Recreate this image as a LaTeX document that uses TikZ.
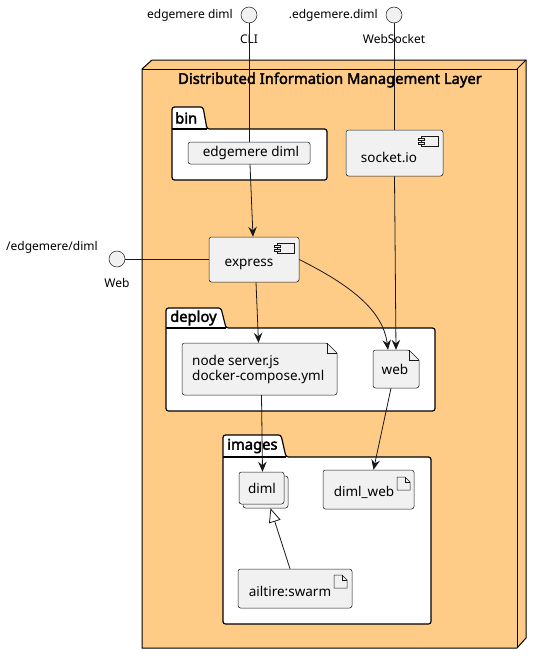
\documentclass[tikz,border=0pt]{standalone}
\usepackage{fontspec}
\setmainfont[AutoFakeBold=2.5]{Noto Sans}
\usetikzlibrary{arrows.meta,calc}
\definecolor{nodefill}{HTML}{F1F1F1}
\definecolor{ln}{HTML}{181818}
\definecolor{layer}{HTML}{FFCC88}
\tikzset{
  box/.style={draw=ln, fill=nodefill, line width=0.5pt, rounded corners=2.5pt, inner sep=0pt},
  ghost/.style={inner sep=0pt, align=left},
  conn/.style={draw=ln, line width=0.8pt, -{Stealth[length=10pt,width=8.5pt,inset=3.5pt]}},
  plainline/.style={draw=ln, line width=0.8pt},
  pkg/.style={draw=black, fill=white, line width=1.2pt, rounded corners=2.5pt},
  iface/.style={circle, draw=ln, fill=nodefill, line width=0.5pt, minimum size=16pt, inner sep=0pt},
  lbl/.style={font=\fontsize{12}{14}\selectfont, inner sep=0pt},
  ntext/.style={font=\fontsize{13.5}{15.5}\selectfont, inner sep=0pt},
  ptitle/.style={font=\bfseries\fontsize{14.75}{17}\selectfont, inner sep=0pt, anchor=west},
}
\begin{document}
\begin{tikzpicture}[x=1pt,y=-1pt]
\useasboundingbox (0,0) rectangle (542,664);

% outer 3D node
\fill[layer] (142,69) -- (152,60) -- (526,60) -- (526,638) -- (517,648) -- (142,648) -- cycle;
\draw[black, line width=1pt] (142,69) -- (152,60) -- (526,60) -- (526,638) -- (517,648) -- (142,648) -- cycle;
\draw[black, line width=1pt] (142,69) -- (517,69) -- (517,648);
\draw[black, line width=1pt] (517,69) -- (526,60);
\node[font=\bfseries\fontsize{14.75}{17}\selectfont, inner sep=0pt] (dimlayer) at (330,80) {Distributed Information Management Layer};

% packages
\draw[pkg] (172,129) -- (172,107) -- (203,107) -- (207,129) -- (327,129) -- (327,180) -- (172,180) -- cycle;
\draw[black, line width=1.2pt] (172,129) -- (207,129);
\node[ptitle] (binlbl) at (175,118) {bin};

\draw[pkg] (166,328) -- (166,308) -- (221,308) -- (226,328) -- (435,328) -- (435,411) -- (166,411) -- cycle;
\draw[black, line width=1.2pt] (166,328) -- (226,328);
\node[ptitle] (deploylbl) at (170,318) {deploy};

\draw[pkg] (223,457) -- (223,435) -- (281,435) -- (286,457) -- (431,457) -- (431,624) -- (223,624) -- cycle;
\draw[black, line width=1.2pt] (223,457) -- (286,457);
\node[ptitle] (imageslbl) at (227,446) {images};

% interfaces
\node[iface] (cli) at (249,15) {};
\node[lbl, anchor=east] (clitxt) at (233,15) {edgemere diml};
\node[lbl] (clilbl) at (249,39) {CLI};
\node[iface] (ws) at (394,15) {};
\node[lbl, anchor=east] (wstxt) at (378,15) {.edgemere.diml};
\node[lbl] (wslbl) at (394,39) {WebSocket};
\node[iface] (web) at (117,259) {};
\node[lbl, anchor=west] (webtxt) at (6,247) {/edgemere/diml};
\node[lbl] (weblbl) at (117,283) {Web};

% bin / edgemere diml
\node[box, minimum width=122pt, minimum height=22pt] (edg) at (249,153) {};
\node[ntext] (edgtxt) at (251,153) {edgemere diml};

% socket.io component
\node[box, minimum width=97pt, minimum height=46pt] (sock) at (394.5,153) {};
\node[ntext] (socktxt) at (389,157) {socket.io};
\draw[ln, line width=0.5pt, fill=nodefill] ($(sock.north east)+(-22,6)$) rectangle ++(17,10);
\draw[ln, line width=0.5pt, fill=nodefill] ($(sock.north east)+(-25,8)$) rectangle ++(6,2.5);
\draw[ln, line width=0.5pt, fill=nodefill] ($(sock.north east)+(-25,12)$) rectangle ++(6,2.5);

% express component
\node[box, minimum width=90pt, minimum height=45pt] (expr) at (254,259.5) {};
\node[ntext] (exprtxt) at (249,264) {express};
\draw[ln, line width=0.5pt, fill=nodefill] ($(expr.north east)+(-22,6)$) rectangle ++(17,10);
\draw[ln, line width=0.5pt, fill=nodefill] ($(expr.north east)+(-25,8)$) rectangle ++(6,2.5);
\draw[ln, line width=0.5pt, fill=nodefill] ($(expr.north east)+(-25,12)$) rectangle ++(6,2.5);

% docker file
\node[ghost, minimum width=155pt, minimum height=52pt] (dock) at (259.5,369) {};
\draw[ln, line width=0.5pt, fill=nodefill, rounded corners=2.5pt] (182,343) -- (327,343) [sharp corners] -- (337,353) [rounded corners=2.5pt] -- (337,395) -- (182,395) -- cycle;
\draw[ln, line width=0.5pt] (327,343) -- (327,353) -- (337,353);
\node[ntext, anchor=west, align=left] (docktxt) at (192,369.5) {node server.js\\docker-compose.yml};

% web file
\node[ghost, minimum width=46pt, minimum height=38pt] (wf) at (396,369) {};
\draw[ln, line width=0.5pt, fill=nodefill, rounded corners=2.5pt] (373,350) -- (409,350) [sharp corners] -- (419,360) [rounded corners=2.5pt] -- (419,388) -- (373,388) -- cycle;
\draw[ln, line width=0.5pt] (409,350) -- (409,360) -- (419,360);
\node[ntext] (wftxt) at (395,369) {web};

% diml collections
\draw[ln, line width=0.5pt, fill=nodefill, rounded corners=2.5pt] (243,476) rectangle (288,508);
\node[box, minimum width=45pt, minimum height=32pt] (diml) at (261.5,488) {};
\node[ntext] (dimltxt) at (262,488) {diml};

% diml_web artifact
\node[box, minimum width=91pt, minimum height=39pt] (dimlweb) at (368.5,489.5) {};
\node[ntext] (dimlwebtxt) at (364,492) {diml\_web};
\draw[ln, line width=0.5pt] (397,477) -- (405,477) -- (410,482) -- (410,490) -- (397,490) -- cycle;
\draw[ln, line width=0.5pt] (405,477) -- (405,482) -- (410,482);

% ailtire:swarm artifact
\node[box, minimum width=114pt, minimum height=39pt] (swarm) at (295,588.5) {};
\node[ntext] (swarmtxt) at (290,591) {ailtire:swarm};
\draw[ln, line width=0.5pt] (334,575) -- (342,575) -- (347,580) -- (347,588) -- (334,588) -- cycle;
\draw[ln, line width=0.5pt] (342,575) -- (342,580) -- (347,580);

% connectors
\draw[plainline] (cli.south) -- (cli.south |- edg.north);
\draw[plainline] (ws.south) -- (ws.south |- sock.north);
\draw[plainline] (web.east) -- (web.east -| expr.west);
\draw[conn] ($(edg.south)+(1,0)$) -- ($(expr.north)+(-1,0)$);
\draw[conn] (sock.south) -- ($(wf.north)+(0,0)$);
\draw[conn] ($(expr.south)+(2,0)$) -- ($(dock.north)+(-1,0)$);
\draw[conn] (expr.east) .. controls (350,285) and (383,310) .. ($(wf.north)+(-8,0)$);
\draw[conn] ($(dock.south)+(2,0)$) -- ($(diml.north)+(1,0)$);
\draw[conn] ($(wf.south)+(-5,0)$) -- ($(dimlweb.north)+(5,0)$);
\draw[plainline, -{Triangle[open, length=14pt, width=12pt]}] ($(swarm.north)+(-5,0)$) -- ($(diml.south)+(9,4)$);
\end{tikzpicture}
\end{document}
